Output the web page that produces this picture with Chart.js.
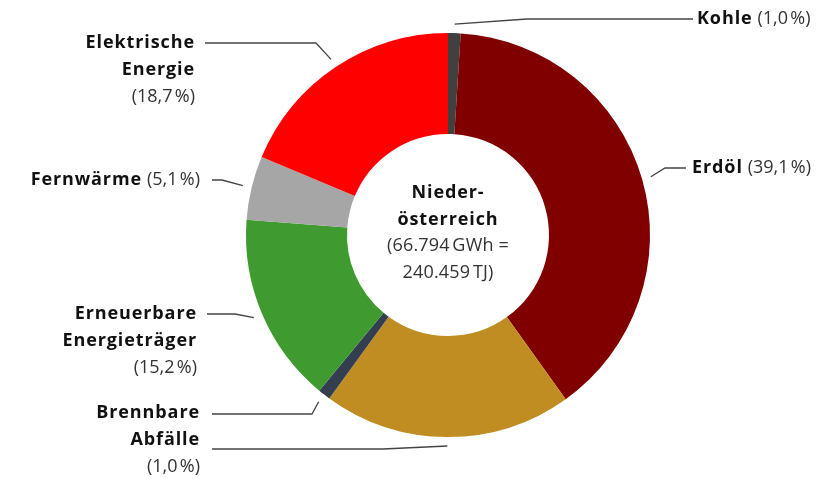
<!DOCTYPE html>
<html>
<head>
<meta charset="utf-8">
<script src="https://cdn.jsdelivr.net/npm/chart.js@4/dist/chart.umd.min.js"></script>
<style>
  html, body { margin: 0; padding: 0; background: #fff; }
  #wrap { width: 822px; height: 478px; position: relative; }
</style>
</head>
<body>
<div id="wrap"><canvas id="chart"></canvas></div>
<script>
// --- Daten ---
const categories = ['Kohle', 'Erdöl', 'Gas', 'Brennbare Abfälle', 'Erneuerbare Energieträger', 'Fernwärme', 'Elektrische Energie'];
const shares = [1.0, 39.1, 19.9, 1.0, 15.2, 5.1, 18.7];
const colors = ['#404040', '#800000', '#c08d22', '#333f50', '#3f9a2f', '#a6a6a6', '#ff0000'];
const centerLines = [['Nieder-', true], ['österreich', true], ['(66.794\u202FGWh =', false], ['240.459\u202FTJ)', false]];

const FONT = '"Open Sans", sans-serif';
const pct = v => '(' + v.toFixed(1).replace('.', ',') + '\u202F%)';

// Beschriftungen: Textzeilen, Ankerpunkt, Knick der Führungslinie
const labels = [
    { i: 0, lines: [[categories[0], ' ' + pct(shares[0])]], x: 697, y: 19, align: 'left', elbow: [527, 19], end: 693 },
    { i: 1, lines: [[categories[1], ' ' + pct(shares[1])]], x: 692, y: 168, align: 'left', elbow: [665, 168], end: 686 },
    { i: 2, lines: [], x: 0, y: 0, align: 'right', elbow: [383, 449], end: 212 },
    { i: 3, lines: [['Brennbare', ''], ['Abfälle', ''], ['', pct(shares[3])]], x: 200, y: 413, align: 'right', elbow: [312, 414], end: 212 },
    { i: 4, lines: [['Erneuerbare', ''], ['Energieträger', ''], ['', pct(shares[4])]], x: 197, y: 314, align: 'right', elbow: [235, 314], end: 207 },
    { i: 5, lines: [[categories[5], ' ' + pct(shares[5])]], x: 200, y: 180, align: 'right', elbow: [222, 180], end: 212 },
    { i: 6, lines: [['Elektrische', ''], ['Energie', ''], ['', pct(shares[6])]], x: 195, y: 43, align: 'right', elbow: [316, 43], end: 205 }
];

const labelPlugin = {
    id: 'labelPlugin',
    afterDraw(chart) {
        const ctx = chart.ctx;
        const meta = chart.getDatasetMeta(0);
        ctx.save();
        // Führungslinien
        ctx.strokeStyle = '#444';
        ctx.lineWidth = 1.3;
        labels.forEach(l => {
            const arc = meta.data[l.i];
            const mid = (arc.startAngle + arc.endAngle) / 2;
            const r = arc.outerRadius + 9;
            const sx = arc.x + Math.cos(mid) * r;
            const sy = arc.y + Math.sin(mid) * r;
            ctx.beginPath();
            ctx.moveTo(sx, sy);
            ctx.lineTo(l.elbow[0], l.elbow[1]);
            ctx.lineTo(l.end, l.elbow[1]);
            ctx.stroke();
        });
        // Texte
        ctx.textBaseline = 'middle';
        const setBold = () => { ctx.font = 'bold 18px ' + FONT; ctx.letterSpacing = '0.9px'; };
        const setNorm = () => { ctx.font = '18px ' + FONT; ctx.letterSpacing = '0.2px'; };
        labels.forEach(l => {
            l.lines.forEach((ln, k) => {
                const y = l.y + k * 27;
                setBold();
                const wb = ln[0] ? ctx.measureText(ln[0]).width : 0;
                setNorm();
                const wn = ln[1] ? ctx.measureText(ln[1]).width : 0;
                let x = l.align === 'left' ? l.x : l.x - wb - wn;
                ctx.textAlign = 'left';
                setBold();
                ctx.fillStyle = '#111';
                ctx.fillText(ln[0], x, y);
                setNorm();
                ctx.fillStyle = '#333';
                ctx.fillText(ln[1], x + wb, y);
            });
        });
        // Mitte
        const a = meta.data[0];
        ctx.textAlign = 'center';
        centerLines.forEach((c, k) => {
            if (c[1]) setBold(); else setNorm();
            ctx.fillStyle = c[1] ? '#111' : '#333';
            ctx.fillText(c[0], a.x, a.y - 42 + k * 26.5);
        });
        ctx.restore();
    }
};

new Chart(document.getElementById('chart'), {
    type: 'doughnut',
    data: {
        labels: categories,
        datasets: [{ data: shares, backgroundColor: colors, borderWidth: 0 }]
    },
    options: {
        responsive: true,
        maintainAspectRatio: false,
        animation: false,
        cutout: '50%',
        layout: { padding: { left: 246, right: 172, top: 33, bottom: 41 } },
        plugins: { legend: { display: false }, tooltip: { enabled: false } }
    },
    plugins: [labelPlugin]
});
</script>
</body>
</html>
